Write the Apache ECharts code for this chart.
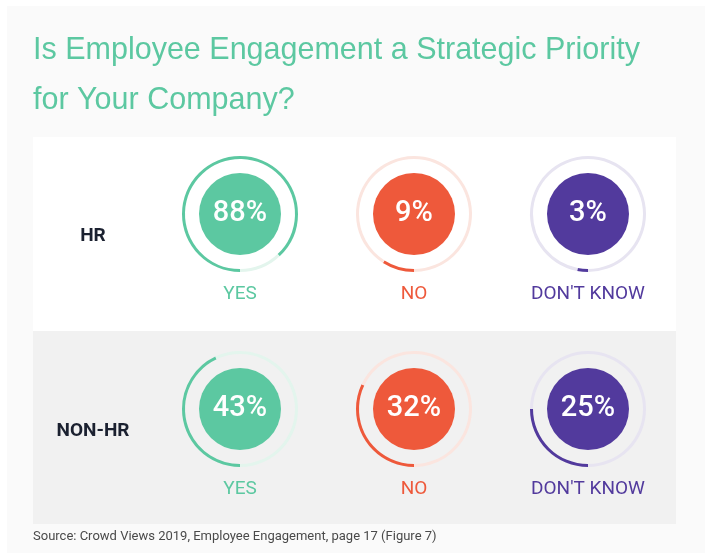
<!DOCTYPE html>
<html>
<head>
<meta charset="utf-8">
<title>Employee Engagement</title>
<script src="https://cdn.jsdelivr.net/npm/echarts@6/dist/echarts.min.js"></script>
<style>
  html, body { margin: 0; padding: 0; background: #ffffff; }
  #chart { width: 711px; height: 553px; }
</style>
</head>
<body>
<div id="chart"></div>
<script>
// data
var rowNames = ['HR', 'NON-HR'];
var answers = ['YES', 'NO', "DON'T KNOW"];
var hrValues = [88, 9, 3];
var nonHrValues = [43, 32, 25];
var answerColors = ['#5cc8a1', '#ee593b', '#523a9d'];
var trackColors = ['#e3f5ed', '#fbe5df', '#e7e4f1'];
var titleText = 'Is Employee Engagement a Strategic Priority\nfor Your Company?';
var sourceText = 'Source: Crowd Views 2019, Employee Engagement, page 17 (Figure 7)';

// layout
var colX = [240, 414, 588];
var rowY = [214, 409];
var rowValues = [hrValues, nonHrValues];

var chart = echarts.init(document.getElementById('chart'), null, { renderer: 'canvas' });

var series = [];
var titles = [];

titles.push({
  text: titleText,
  left: 33, top: 26, padding: 0,
  textStyle: { fontFamily: 'Liberation Sans', fontSize: 30.5, fontWeight: 'normal', color: '#5cc8a1', lineHeight: 50 }
});
titles.push({
  text: sourceText,
  left: 33, top: 530, padding: 0,
  textStyle: { fontFamily: 'Roboto', fontSize: 13, fontWeight: 'normal', color: '#4a4a4a' }
});

for (var r = 0; r < rowNames.length; r++) {
  titles.push({
    text: rowNames[r],
    left: 93, top: rowY[r] + 13, padding: 0,
    textAlign: 'center',
    textStyle: { fontFamily: 'Roboto', fontSize: 19, fontWeight: 'bold', color: '#1b2130' }
  });
  for (var c = 0; c < answers.length; c++) {
    var v = rowValues[r][c];
    // outer progress ring
    series.push({
      type: 'pie',
      center: [colX[c], rowY[r]],
      radius: [55, 58],
      startAngle: 270,
      clockwise: true,
      silent: true,
      label: { show: false },
      labelLine: { show: false },
      emphasis: { disabled: true },
      data: [
        { value: v, itemStyle: { color: answerColors[c] } },
        { value: 100 - v, itemStyle: { color: trackColors[c] } }
      ]
    });
    // inner filled disc with the percent
    series.push({
      type: 'pie',
      center: [colX[c], rowY[r]],
      radius: [0, 41],
      silent: true,
      labelLine: { show: false },
      emphasis: { disabled: true },
      label: {
        show: true,
        position: 'center',
        formatter: v + '%',
        fontFamily: 'Roboto',
        fontSize: 29,
        fontWeight: 500,
        color: '#ffffff'
      },
      data: [{ value: v, itemStyle: { color: answerColors[c] } }]
    });
    titles.push({
      text: answers[c],
      left: colX[c], top: rowY[r] + 71, padding: 0,
      textAlign: 'center',
      textStyle: { fontFamily: 'Roboto', fontSize: 19, fontWeight: 'normal', color: answerColors[c] }
    });
  }
}

var option = {
  animation: false,
  title: titles,
  graphic: [
    { type: 'rect', z: 0, shape: { x: 7, y: 6, width: 698, height: 547 }, style: { fill: '#fafafa' } },
    { type: 'rect', z: 0, shape: { x: 33, y: 137, width: 643, height: 194 }, style: { fill: '#ffffff' } },
    { type: 'rect', z: 0, shape: { x: 33, y: 331, width: 643, height: 193 }, style: { fill: '#f1f1f1' } }
  ],
  series: series
};

chart.setOption(option);
window.addEventListener('resize', chart.resize);
</script>
</body>
</html>
